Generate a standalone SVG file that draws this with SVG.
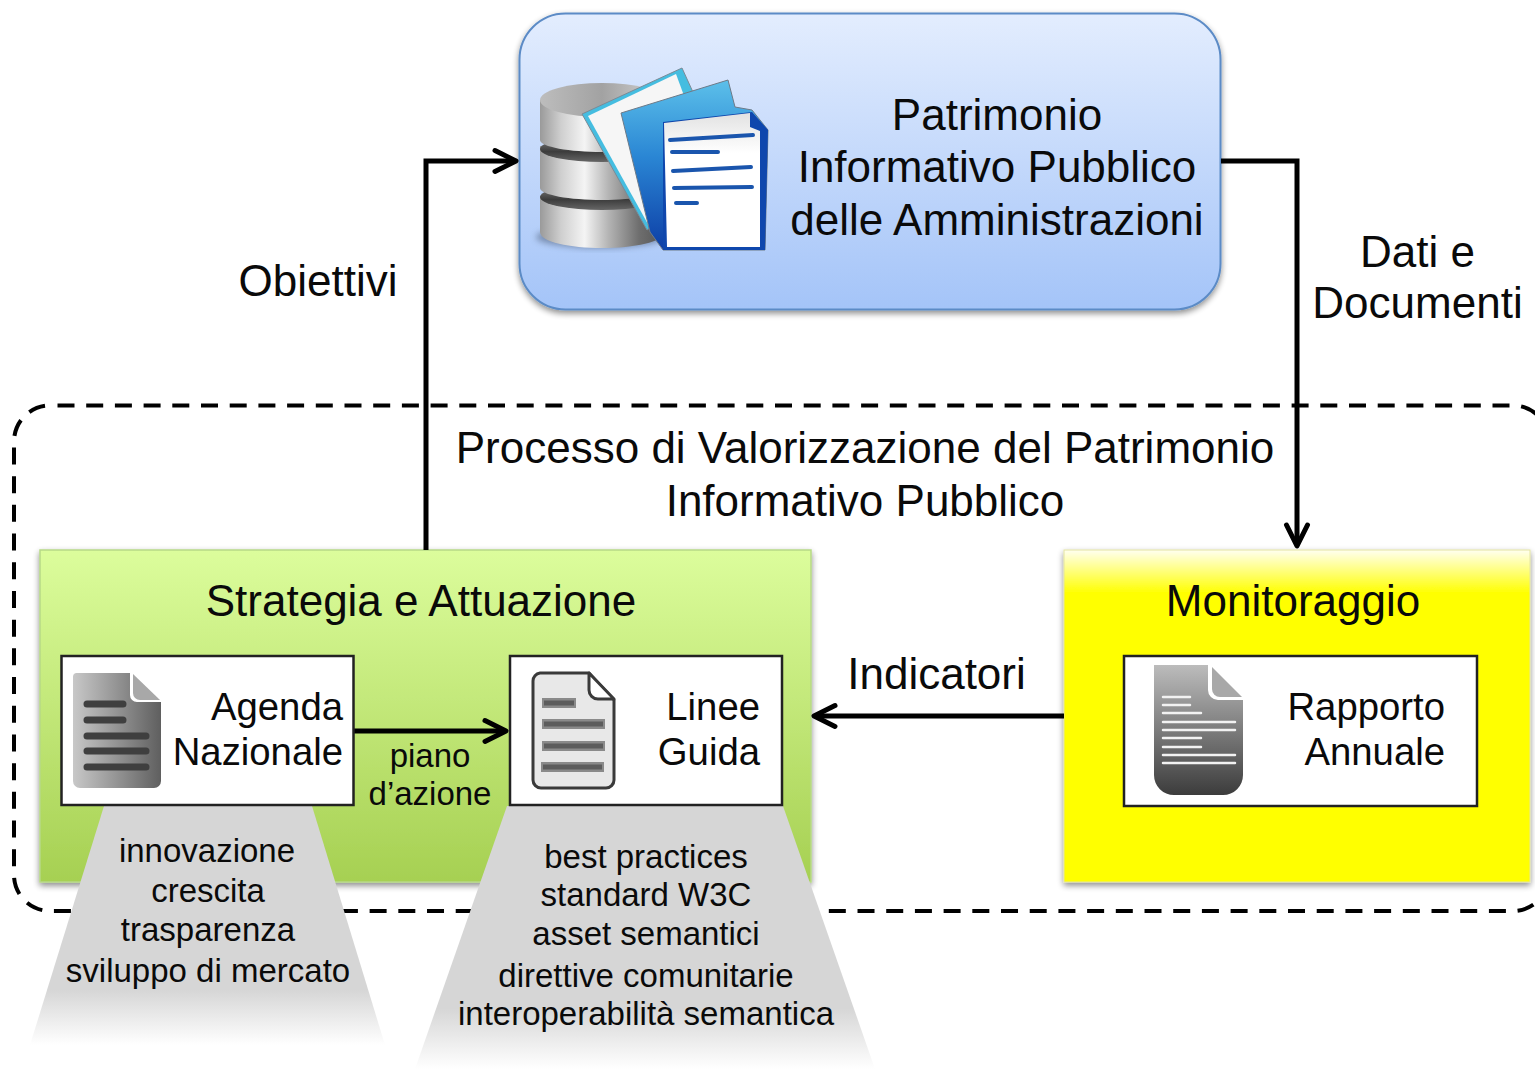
<svg xmlns="http://www.w3.org/2000/svg" width="1535" height="1069" viewBox="0 0 1535 1069">
<style>
text{font-family:"Liberation Sans",Arial,sans-serif;fill:#0a0a0a;text-anchor:middle}
.t{font-size:44px}
.m{font-size:33px}
.n{font-size:38.300px;text-anchor:end}
.c{fill:none;stroke:#000;stroke-width:5}
.h{fill:none;stroke:#000;stroke-width:5;stroke-linecap:round;stroke-linejoin:round}
.in{fill:#fff;stroke:#222;stroke-width:2.5}
</style>
<defs>
<linearGradient id="blue" x1="0" y1="0" x2="0" y2="1"><stop offset="0" stop-color="#e3edfe"/><stop offset="1" stop-color="#a4c4f8"/></linearGradient>
<linearGradient id="green" x1="0" y1="0" x2="0" y2="1"><stop offset="0" stop-color="#dcfd9c"/><stop offset="1" stop-color="#a6d052"/></linearGradient>
<linearGradient id="yellow" x1="0" y1="0" x2="0" y2="1"><stop offset="0" stop-color="#fffff0"/><stop offset=".13" stop-color="#ffff00"/><stop offset="1" stop-color="#ffff00"/></linearGradient>
<linearGradient id="fade" x1="0" y1="0" x2="0" y2="1"><stop offset="0" stop-color="#d6d6d6"/><stop offset=".77" stop-color="#d6d6d6"/><stop offset="1" stop-color="#d6d6d6" stop-opacity="0"/></linearGradient>
<linearGradient id="metal" x1="0" y1="0" x2="1" y2="0"><stop offset="0" stop-color="#9a9a9a"/><stop offset=".17" stop-color="#cfcfcf"/><stop offset=".36" stop-color="#f4f4f4"/><stop offset=".55" stop-color="#b5b5b5"/><stop offset=".8" stop-color="#6e6e6e"/><stop offset="1" stop-color="#555"/></linearGradient>
<linearGradient id="metaltop" x1="0" y1="0" x2="1" y2="0"><stop offset="0" stop-color="#bdbdbd"/><stop offset=".5" stop-color="#a2a2a2"/><stop offset="1" stop-color="#d5d5d5"/></linearGradient>
<linearGradient id="gap" x1="0" y1="0" x2="0" y2="1"><stop offset="0" stop-color="#8a8a8a"/><stop offset=".6" stop-color="#3c3c3c"/><stop offset="1" stop-color="#666"/></linearGradient>
<linearGradient id="folder" x1="0" y1="0" x2="0" y2="1"><stop offset="0" stop-color="#5cc0ea"/><stop offset=".45" stop-color="#2a86d4"/><stop offset="1" stop-color="#0d3ea6"/></linearGradient>
<linearGradient id="sheet" x1="0" y1="0" x2="0" y2="1"><stop offset="0" stop-color="#e2e2e2"/><stop offset=".3" stop-color="#fff"/></linearGradient>
<linearGradient id="g1" x1="0" y1="0" x2="1" y2="0"><stop offset="0" stop-color="#c8c8c8"/><stop offset="1" stop-color="#5f5f5f"/></linearGradient>
<linearGradient id="g3" x1="0" y1="0" x2="0" y2="1"><stop offset="0" stop-color="#bcbcbc"/><stop offset="1" stop-color="#3c3c3c"/></linearGradient>
<filter id="sh" x="-5%" y="-5%" width="110%" height="112%"><feGaussianBlur in="SourceAlpha" stdDeviation="3"/><feOffset dy="3"/><feComponentTransfer><feFuncA type="linear" slope=".45"/></feComponentTransfer><feMerge><feMergeNode/><feMergeNode in="SourceGraphic"/></feMerge></filter>
<filter id="soft" x="-20%" y="-20%" width="140%" height="140%"><feGaussianBlur stdDeviation="3"/></filter>
</defs>

<g id="process-frame"><rect x="14" y="405.500" width="1535" height="505.500" rx="36" fill="none" stroke="#000" stroke-width="4" stroke-dasharray="17 11.700" stroke-dashoffset="-7.500"/>
<text class="t" x="865" y="462.500">Processo di Valorizzazione del Patrimonio</text>
<text class="t" x="865" y="515.500">Informativo Pubblico</text></g>

<g id="patrimonio">
<rect x="519.500" y="13.500" width="701" height="296" rx="46" fill="url(#blue)" stroke="#5b8bc6" stroke-width="2" filter="url(#sh)"/>
<g id="db-icon">
<ellipse cx="600" cy="237" rx="64" ry="11" fill="#4a5a74" opacity=".55" filter="url(#soft)"/>
<path d="M540 196v36c0 10 30 16 62 16s62-6 62-16v-36z" fill="url(#metal)"/>
<ellipse cx="602" cy="197" rx="62" ry="13" fill="url(#gap)"/>
<path d="M540 146v42c0 7 30 12 62 12s62-5 62-12v-42z" fill="url(#metal)"/>
<ellipse cx="602" cy="149" rx="62" ry="13" fill="url(#gap)"/>
<path d="M540 100v40c0 7 30 12 62 12s62-5 62-12v-40z" fill="url(#metal)"/>
<ellipse cx="602" cy="100" rx="62" ry="17" fill="url(#metaltop)"/>
<path d="M582 114L682 68L692 90L720 180L647 230z" fill="#45bde0" stroke="#7b8a96" stroke-width="1" stroke-linejoin="round"/>
<path d="M588 116L676 74L690 112L700 190L649 226z" fill="#f6f6f6"/>
<path d="M621 113L728 80L735 107L752 110L768 130L765 250H663L650 232z" fill="url(#folder)" stroke="#6d7a88" stroke-width="1" stroke-linejoin="round"/>
<path d="M663 122L752 112L768 130L765 250H663z" fill="#0f47ad"/>
<path d="M664 123L750 113V127L760 131L760 247H667z" fill="url(#sheet)"/>
<path d="M670 140L753 135M672 152L718 152M673 171L751 167M674 188L752 187M676 203L697 203" fill="none" stroke="#1a55ad" stroke-width="4" stroke-linecap="round"/>
</g>
<text class="t" x="997" y="130">Patrimonio</text>
<text class="t" x="997" y="182">Informativo Pubblico</text>
<text class="t" x="997" y="235">delle Amministrazioni</text>
</g>

<g id="strategia">
<rect x="40" y="550" width="771" height="332" fill="url(#green)" stroke="#b7d987" stroke-width="1.500" filter="url(#sh)"/>
<text class="t" x="421" y="616">Strategia e Attuazione</text>
</g>

<g id="monitoraggio">
<rect x="1064" y="550" width="466" height="332" fill="url(#yellow)" stroke="#e4e4a0" stroke-width="1" filter="url(#sh)"/>
<text class="t" x="1293" y="616">Monitoraggio</text>
</g>

<g id="connectors">
<path class="c" d="M426 550V161H512"/>
<path class="h" d="M495 150.500L516 161L495 171.500"/>
<path class="c" d="M1221 161H1297V544"/>
<path class="h" d="M1286.500 525L1297 546L1307.500 525"/>
<path class="c" d="M1064 716H816"/>
<path class="h" d="M835 705.500L814 716L835 726.500"/>
<path class="c" d="M354 731H503"/>
<path class="h" d="M485 720.500L506 731L485 741.500"/>
</g>

<g id="label-obiettivi"><text class="t" x="318" y="295.500">Obiettivi</text></g>
<g id="label-dati"><text class="t" x="1417.500" y="267">Dati e</text><text class="t" x="1417.500" y="318">Documenti</text></g>
<g id="label-indicatori"><text class="t" x="936.500" y="689">Indicatori</text></g>
<g id="label-piano"><text class="m" x="430" y="767">piano</text><text class="m" x="430" y="805">d’azione</text></g>

<g id="agenda">
<polygon points="104,806 312,806 385,1045 30,1045" fill="url(#fade)"/>
<rect class="in" x="61.500" y="656" width="292" height="149"/>
<path d="M76 673H130V695a7 7 0 0 0 7 7H161V781a7 7 0 0 1-7 7H80a7 7 0 0 1-7-7V677a4 4 0 0 1 3-4z" fill="url(#g1)"/>
<path d="M133 674L160 700H140a7 7 0 0 1-7-7z" fill="#a8a8a8"/>
<path d="M87 704H123M87 720H123M87 736H146M87 751H146M87 767H146" stroke="#3f3f3f" stroke-width="7" stroke-linecap="round"/>
<text class="n" x="343" y="720">Agenda</text>
<text class="n" x="343" y="765">Nazionale</text>
<text class="m" x="207" y="862">innovazione</text>
<text class="m" x="208" y="902">crescita</text>
<text class="m" x="208" y="941">trasparenza</text>
<text class="m" x="208" y="981.500">sviluppo di mercato</text>
</g>

<g id="linee">
<polygon points="507,806 783,806 875,1069 415,1069" fill="url(#fade)"/>
<rect class="in" x="510" y="656" width="272" height="149"/>
<path d="M540 673H589L614 700V780a8 8 0 0 1-8 8H541a8 8 0 0 1-8-8V681a8 8 0 0 1 7-8z" fill="#e8e8e8" stroke="#3a3a3a" stroke-width="3"/>
<path d="M589 673V690a9 9 0 0 0 9 9H614z" fill="#fff" stroke="#3a3a3a" stroke-width="3" stroke-linejoin="round"/>
<path d="M542 703H576M542 724H605M542 746H605M541 767H604" stroke="#8a8a8a" stroke-width="10"/>
<path d="M544 703H574M544 724H603M544 746H603M543 767H602" stroke="#5c5c5c" stroke-width="5"/>
<text class="n" x="760" y="720">Linee</text>
<text class="n" x="760" y="765">Guida</text>
<text class="m" x="646" y="868">best practices</text>
<text class="m" x="646" y="906">standard W3C</text>
<text class="m" x="646" y="944.500">asset semantici</text>
<text class="m" x="646" y="986.500">direttive comunitarie</text>
<text class="m" x="646" y="1025">interoperabilità semantica</text>
</g>

<g id="rapporto">
<rect class="in" x="1124" y="656" width="353" height="150"/>
<path d="M1154 665H1208V690a10 10 0 0 0 10 10H1243V775a20 20 0 0 1-20 20H1174a20 20 0 0 1-20-20z" fill="url(#g3)"/>
<path d="M1212 667L1242 697H1220a8 8 0 0 1-8-8z" fill="#a8a8a8"/>
<path d="M1163 697H1190M1163 705H1190M1163 713H1201M1163 722H1235M1163 730H1235M1163 738H1201M1163 747H1201M1163 755H1235M1163 763H1235" stroke="#f2f2f2" stroke-width="2.500" stroke-linecap="round"/>
<text class="n" x="1445" y="720">Rapporto</text>
<text class="n" x="1445" y="765">Annuale</text>
</g>
</svg>
